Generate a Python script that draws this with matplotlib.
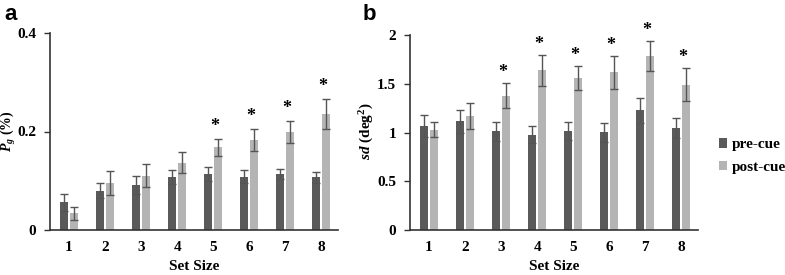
import matplotlib
matplotlib.use("Agg")
import matplotlib.pyplot as plt
import numpy as np

plt.rcParams["mathtext.fontset"] = "custom"
plt.rcParams["mathtext.it"] = "Liberation Serif:italic:bold"
plt.rcParams["mathtext.bf"] = "Liberation Serif:bold"
plt.rcParams["mathtext.rm"] = "Liberation Serif:bold"

set_sizes = [1, 2, 3, 4, 5, 6, 7, 8]

pg_pre = [0.056, 0.080, 0.091, 0.107, 0.114, 0.108, 0.114, 0.107]
pg_pre_err = [0.017, 0.016, 0.018, 0.014, 0.014, 0.013, 0.010, 0.011]
pg_post = [0.034, 0.096, 0.110, 0.137, 0.168, 0.183, 0.199, 0.236]
pg_post_err = [0.013, 0.024, 0.023, 0.021, 0.017, 0.023, 0.023, 0.031]
pg_star = [5, 6, 7, 8]

sd_pre = [1.066, 1.115, 1.012, 0.979, 1.015, 1.002, 1.227, 1.046]
sd_pre_err = [0.11, 0.12, 0.095, 0.09, 0.09, 0.095, 0.13, 0.10]
sd_post = [1.03, 1.166, 1.377, 1.636, 1.557, 1.616, 1.786, 1.49]
sd_post_err = [0.08, 0.135, 0.13, 0.155, 0.12, 0.17, 0.157, 0.17]
sd_star = [3, 4, 5, 6, 7, 8]

labels = ["pre-cue", "post-cue"]
c_pre = "#5a5a5a"
c_post = "#b4b4b4"

W, H = 785, 275
fig = plt.figure(figsize=(W / 100, H / 100), dpi=100)
serif = ["Liberation Serif", "DejaVu Serif"]

def ax_rect(l, t, r, b):
    return [l / W, 1 - b / H, (r - l) / W, (b - t) / H]

def panel(ax, pre, pre_err, post, post_err, stars, ymax, yticks, yticklabels, star_px):
    x = np.array(set_sizes)
    off = 0.14
    w = 0.22
    ekw = dict(ecolor="#555555", elinewidth=1.0, capsize=3, capthick=1.0)
    ax.bar(x - off, pre, w, color=c_pre, yerr=pre_err, error_kw=ekw, label=labels[0])
    ax.bar(x + off, post, w, color=c_post, yerr=post_err, error_kw=ekw, label=labels[1])
    for s in stars:
        i = set_sizes.index(s)
        ax.annotate("*", xy=(s + off, post[i] + post_err[i]), xytext=(-3, star_px),
                    textcoords="offset pixels", ha="center", va="baseline",
                    fontsize=13, fontweight="bold", family=serif)
    ax.set_xlim(0.47, 8.47)
    ax.set_ylim(0, ymax)
    ax.set_yticks(yticks)
    ax.set_yticklabels(yticklabels, family=serif, fontweight="bold", fontsize=11)
    ax.set_xticks(x)
    ax.set_xticklabels([str(v) for v in set_sizes], family=serif, fontweight="bold", fontsize=11)
    ax.tick_params(axis="x", length=0, pad=8)
    ax.tick_params(axis="y", length=4, width=1, color="#333333", pad=6)
    for sp in ["top", "right"]:
        ax.spines[sp].set_visible(False)
    for sp in ["left", "bottom"]:
        ax.spines[sp].set_color("#333333")
        ax.spines[sp].set_linewidth(1.2)
    ax.set_xlabel("Set Size", family=serif, fontweight="bold", fontsize=11, labelpad=4)

ax1 = fig.add_axes(ax_rect(50, 33, 338, 230))
panel(ax1, pg_pre, pg_pre_err, pg_post, pg_post_err, pg_star, 0.4,
      [0, 0.2, 0.4], ["0", "0.2", "0.4"], 8)
fig.text(8 / W, 1 - 131 / H, r"$\mathit{P_g}$ (%)", family=serif, fontweight="bold",
         fontsize=10, rotation=90, ha="center", va="center")

ax2 = fig.add_axes(ax_rect(410, 35, 698, 230))
panel(ax2, sd_pre, sd_pre_err, sd_post, sd_post_err, sd_star, 2.0,
      [0, 0.5, 1, 1.5, 2], ["0", "0.5", "1", "1.5", "2"], 6)
fig.text(367 / W, 1 - 131 / H, r"$\mathit{sd}$ (deg$^\mathbf{2}$)", family=serif, fontweight="bold",
         fontsize=11, rotation=90, ha="center", va="center")

fig.text(4 / W, 1 - 14 / H, "a", family=["Liberation Sans", "DejaVu Sans"], fontweight="bold", fontsize=16, va="center")
fig.text(363 / W, 1 - 14 / H, "b", family=["Liberation Sans", "DejaVu Sans"], fontweight="bold", fontsize=16, va="center")

handles, labs = ax2.get_legend_handles_labels()
leg = fig.legend(handles, labs, loc="center left", bbox_to_anchor=(719 / W, 1 - 156 / H),
                 frameon=False, prop=dict(family="Liberation Serif", weight="bold", size=11),
                 handlelength=0.55, handleheight=0.55, handletextpad=0.3, labelspacing=0.6,
                 borderpad=0, borderaxespad=0)

fig.savefig("out.png", dpi=100)
